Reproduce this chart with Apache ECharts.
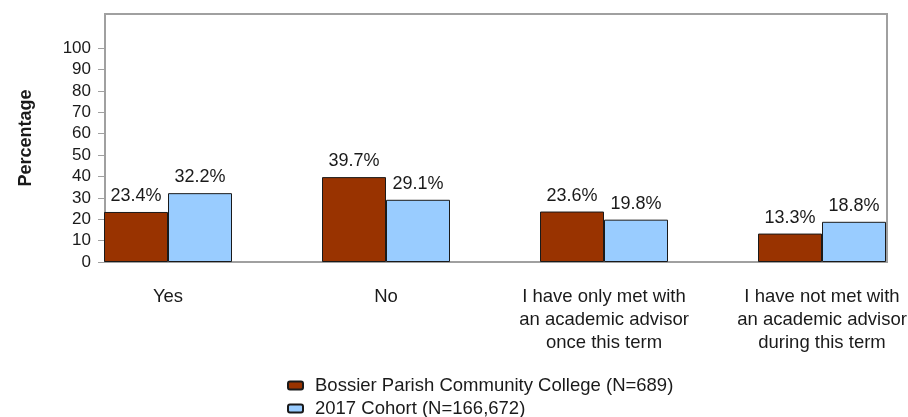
<!DOCTYPE html>
<html>
<head>
<meta charset="utf-8">
<script src="https://cdn.jsdelivr.net/npm/echarts@6/dist/echarts.min.js"></script>
<style>
html,body{margin:0;padding:0;background:#fff;}
#chart{width:908px;height:417px;}
</style>
</head>
<body>
<div id="chart"></div>
<script>
var categories = [
  'Yes',
  'No',
  'I have only met with\nan academic advisor\nonce this term',
  'I have not met with\nan academic advisor\nduring this term'
];
var seriesNames = ['Bossier Parish Community College (N=689)', '2017 Cohort (N=166,672)'];
var bpccValues = [23.4, 39.7, 23.6, 13.3];
var cohortValues = [32.2, 29.1, 19.8, 18.8];
var yTicks = [0, 10, 20, 30, 40, 50, 60, 70, 80, 90, 100];

var FONT = '"Liberation Sans", Arial, sans-serif';
var chart = echarts.init(document.getElementById('chart'));

function labelCfg() {
  return {
    show: true, position: 'top', distance: 7,
    fontFamily: FONT, fontSize: 18, color: '#1a1a1a',
    formatter: function (p) { return p.value.toFixed(1) + '%'; }
  };
}

chart.setOption({
  animation: false,
  backgroundColor: '#fff',
  textStyle: { fontFamily: FONT },
  grid: { left: 59, top: 14, width: 872, height: 248, outerBoundsMode: 'none', containLabel: false },
  graphic: [{
    type: 'rect', z: 0, silent: true,
    shape: { x: 105, y: 14, width: 782, height: 248 },
    style: { fill: 'none', stroke: '#a0a0a0', lineWidth: 2 }
  }],
  xAxis: {
    type: 'category',
    data: categories,
    axisLine: { show: false },
    axisTick: { show: false },
    axisLabel: {
      interval: 0, margin: 23, fontFamily: FONT, fontSize: 18.5,
      color: '#1a1a1a', lineHeight: 23, align: 'center'
    }
  },
  yAxis: {
    type: 'value', min: 0, max: 116, interval: 10, offset: -46,
    name: 'Percentage', nameLocation: 'middle', nameGap: 70, nameRotate: 90,
    nameTextStyle: { fontFamily: FONT, fontSize: 18, fontWeight: 'bold', color: '#1a1a1a' },
    splitLine: { show: false },
    axisLine: { show: true, lineStyle: { color: '#a0a0a0', width: 2 } },
    axisTick: { show: true, length: 7, customValues: yTicks, lineStyle: { color: '#a0a0a0', width: 1 } },
    axisLabel: {
      customValues: yTicks, margin: 14, fontFamily: FONT, fontSize: 17, color: '#1a1a1a'
    }
  },
  legend: {
    orient: 'vertical', left: 287, top: 376, height: 120, padding: 0,
    itemWidth: 15, itemHeight: 8, itemGap: 4,
    textStyle: { fontFamily: FONT, fontSize: 18.5, lineHeight: 18, color: '#1a1a1a', padding: [0, 0, 0, 7] },
    data: seriesNames
  },
  series: [
    {
      name: seriesNames[0], type: 'bar', data: bpccValues,
      barWidth: 64, barGap: '0%', z: 2,
      itemStyle: { color: '#993300', borderColor: '#1a1a1a', borderWidth: 1 },
      label: labelCfg()
    },
    {
      name: seriesNames[1], type: 'bar', data: cohortValues,
      barWidth: 64, barGap: '0%', z: 2,
      itemStyle: { color: '#99ccff', borderColor: '#1a1a1a', borderWidth: 1 },
      label: labelCfg()
    }
  ]
});
</script>
</body>
</html>
